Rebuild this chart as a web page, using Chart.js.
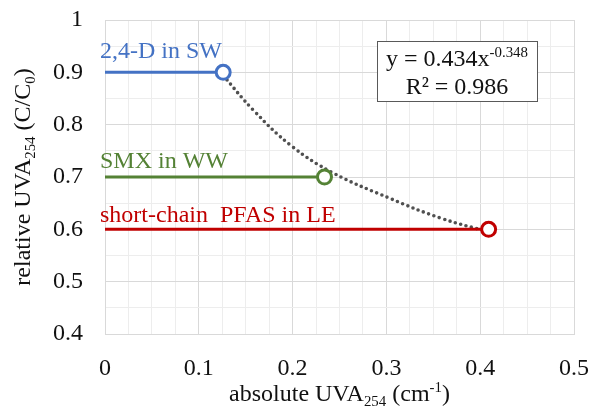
<!DOCTYPE html>
<html>
<head>
<meta charset="utf-8">
<script src="https://cdn.jsdelivr.net/npm/chart.js@4/dist/chart.umd.min.js"></script>
<style>
  html, body { margin: 0; padding: 0; background: #fff; }
  canvas { display: block; }
</style>
</head>
<body>
<canvas id="c" width="590" height="408"></canvas>
<script>
// data
const seriesNames = ['2,4-D in SW', 'SMX in WW', 'short-chain  PFAS in LE'];
const seriesColors = ['#4472C4', '#548235', '#C00000'];
const relLevel = [0.9, 0.7, 0.6];     // relative UVA254 (C/C0)
const absUva = [0.126, 0.234, 0.409]; // absolute UVA254 (cm-1)

// power fit, dotted trend line
const fitX = [0.126, 0.158, 0.199, 0.243, 0.304, 0.357, 0.409];
const fitY = [0.894, 0.828, 0.759, 0.708, 0.659, 0.622, 0.595];
const fitText = ['y = 0.434x', '-0.348', 'R² = 0.986'];

const xTicks = [0, 0.1, 0.2, 0.3, 0.4, 0.5];
const yTicks = [0.4, 0.5, 0.6, 0.7, 0.8, 0.9, 1];

const FONT = '"Liberation Serif", "Times New Roman", serif';
const isMajor = v => Math.abs(v * 10 - Math.round(v * 10)) < 1e-6;

const datasets = seriesNames.map((name, i) => ({
  label: name,
  data: [{ x: 0, y: relLevel[i] }, { x: absUva[i], y: relLevel[i] }],
  borderColor: seriesColors[i],
  borderWidth: 3,
  pointRadius: [0, 7],
  pointBorderWidth: 3,
  pointBorderColor: seriesColors[i],
  pointBackgroundColor: '#fff',
  order: 1
}));
datasets.push({
  label: 'fit',
  data: fitX.map((x, i) => ({ x: x, y: fitY[i] })),
  borderColor: '#505050',
  borderWidth: 3.6,
  borderDash: [0, 5.6],
  borderCapStyle: 'round',
  pointRadius: 0,
  tension: 0.4,
  order: 2
});

// draws a run of text pieces, some of them sub- or superscript
function richText(ctx, parts, x, y, size) {
  let w = 0;
  parts.forEach(p => {
    ctx.font = (p.s ? size * 0.62 : size) + 'px ' + FONT;
    w += ctx.measureText(p.t).width;
  });
  let cx = x - w / 2;
  parts.forEach(p => {
    ctx.font = (p.s ? size * 0.62 : size) + 'px ' + FONT;
    const dy = p.s === 'sub' ? size * 0.22 : p.s === 'sup' ? -size * 0.38 : 0;
    ctx.fillText(p.t, cx, y + dy);
    cx += ctx.measureText(p.t).width;
  });
}

const labelsPlugin = {
  id: 'labels',
  afterDatasetsDraw(chart) {
    const ctx = chart.ctx;
    const xs = chart.scales.x, ys = chart.scales.y;
    ctx.save();
    ctx.textBaseline = 'alphabetic';
    ctx.textAlign = 'left';
    const lift = [14, 9, 7];
    seriesNames.forEach((name, i) => {
      ctx.font = '24px ' + FONT;
      ctx.fillStyle = seriesColors[i];
      ctx.fillText(name, xs.getPixelForValue(0) - 5, ys.getPixelForValue(relLevel[i]) - lift[i]);
    });

    // equation box
    ctx.fillStyle = '#fff';
    ctx.fillRect(377, 41, 161, 61);
    ctx.strokeStyle = '#595959';
    ctx.lineWidth = 1;
    ctx.strokeRect(377.5, 41.5, 160, 60);
    ctx.fillStyle = '#111';
    richText(ctx, [{ t: fitText[0] }, { t: fitText[1], s: 'sup' }], 457, 66, 24);
    richText(ctx, [{ t: fitText[2] }], 457, 94, 24);
    ctx.restore();
  },
  afterDraw(chart) {
    const ctx = chart.ctx;
    const a = chart.chartArea;
    ctx.save();
    ctx.fillStyle = '#111';
    ctx.textBaseline = 'alphabetic';
    ctx.textAlign = 'left';
    richText(ctx, [{ t: 'absolute UVA' }, { t: '254', s: 'sub' }, { t: ' (cm' }, { t: '-1', s: 'sup' }, { t: ')' }],
      (a.left + a.right) / 2, 401, 24);
    ctx.translate(30, (a.top + a.bottom) / 2);
    ctx.rotate(-Math.PI / 2);
    richText(ctx, [{ t: 'relative UVA' }, { t: '254', s: 'sub' }, { t: ' (C/C' }, { t: '0', s: 'sub' }, { t: ')' }],
      0, 0, 24);
    ctx.restore();
  }
};

new Chart(document.getElementById('c'), {
  type: 'line',
  data: { datasets: datasets },
  options: {
    responsive: false,
    animation: false,
    layout: { padding: { top: 20, right: 16, left: 0, bottom: 0 } },
    plugins: { legend: { display: false }, tooltip: { enabled: false } },
    scales: {
      x: {
        type: 'linear',
        min: xTicks[0],
        max: xTicks[xTicks.length - 1],
        afterFit: s => { s.height = 74; s.paddingLeft = 0; s.paddingRight = 0; },
        border: { color: '#d9d9d9' },
        grid: {
          drawTicks: false,
          color: c => isMajor(c.tick.value) ? '#d9d9d9' : '#ededed'
        },
        ticks: {
          stepSize: 0.025,
          autoSkip: false,
          maxRotation: 0,
          padding: 20,
          color: '#111',
          font: { family: FONT, size: 24 },
          callback: v => isMajor(v) ? String(Math.round(v * 10) / 10) : ''
        }
      },
      y: {
        type: 'linear',
        min: yTicks[0],
        max: yTicks[yTicks.length - 1],
        afterFit: s => { s.width = 105; s.paddingTop = 0; s.paddingBottom = 0; },
        border: { color: '#d9d9d9' },
        grid: {
          drawTicks: false,
          color: c => isMajor(c.tick.value) ? '#d9d9d9' : '#ededed'
        },
        ticks: {
          stepSize: 0.05,
          autoSkip: false,
          padding: 22,
          color: '#111',
          font: { family: FONT, size: 24 },
          callback: v => isMajor(v) ? String(Math.round(v * 10) / 10) : ''
        }
      }
    }
  },
  plugins: [labelsPlugin]
});
</script>
</body>
</html>
